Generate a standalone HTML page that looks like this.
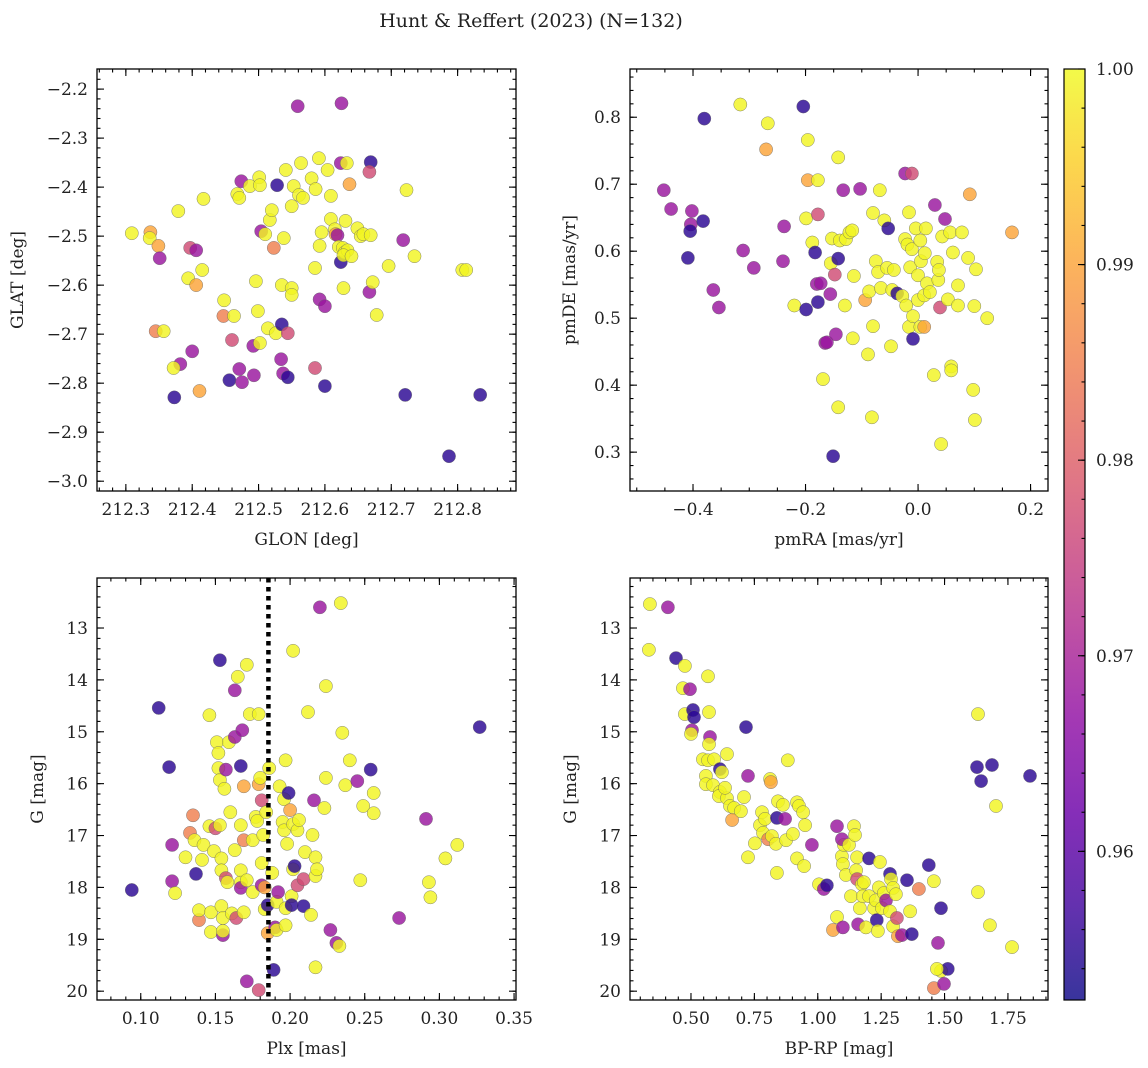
<!DOCTYPE html>
<html><head><meta charset="utf-8"><title>Hunt &amp; Reffert (2023)</title>
<style>
html,body{margin:0;padding:0;background:#fff;}
svg{display:block;font-family:"DejaVu Serif","Liberation Serif",serif;}
</style></head>
<body>
<svg id="fig" width="1148" height="1068" viewBox="0 0 1148 1068" xmlns="http://www.w3.org/2000/svg">
<rect width="1148" height="1068" fill="#fff"/>
<text x="531" y="27" font-size="19" text-anchor="middle" fill="#222">Hunt &amp; Reffert (2023) (N=132)</text>
</svg>
<script>
// ---------- data ----------
const Y=0.9995,O=0.990,S=0.985,P=0.977,M=0.968,D=0.955;
const glon=[212.309,212.337,212.336,212.349,212.345,212.357,212.351,212.379,212.417,212.397,212.406,212.394,212.415,212.400,212.382,212.372,212.373,212.411,212.406,212.448,212.447,212.463,212.460,212.456,212.471,212.475,212.468,212.471,212.474,212.487,212.493,212.492,212.496,212.499,212.502,212.504,212.510,212.514,212.526,212.523,212.517,212.520,212.501,212.502,212.528,212.535,212.538,212.535,212.534,212.537,212.544,212.544,212.550,212.550,212.541,212.550,212.553,212.559,212.561,212.567,212.564,212.580,212.586,212.591,212.585,212.592,212.595,212.592,212.600,212.585,212.600,212.604,212.609,212.609,212.615,212.616,212.619,212.625,212.624,212.633,212.621,212.624,212.627,212.630,212.634,212.637,212.631,212.628,212.628,212.640,212.649,212.654,212.658,212.669,212.669,212.667,212.667,212.672,212.678,212.696,212.718,212.723,212.735,212.721,212.807,212.813,212.787,212.834];
const glat=[-2.494,-2.492,-2.504,-2.520,-2.694,-2.694,-2.545,-2.449,-2.424,-2.524,-2.529,-2.586,-2.569,-2.735,-2.761,-2.769,-2.829,-2.816,-2.600,-2.631,-2.663,-2.663,-2.712,-2.794,-2.771,-2.798,-2.414,-2.422,-2.388,-2.398,-2.784,-2.724,-2.592,-2.653,-2.718,-2.490,-2.496,-2.688,-2.698,-2.524,-2.467,-2.447,-2.380,-2.396,-2.396,-2.600,-2.504,-2.680,-2.751,-2.780,-2.788,-2.698,-2.606,-2.620,-2.365,-2.439,-2.398,-2.235,-2.416,-2.422,-2.351,-2.382,-2.404,-2.341,-2.565,-2.520,-2.492,-2.629,-2.643,-2.769,-2.806,-2.365,-2.418,-2.465,-2.486,-2.496,-2.498,-2.229,-2.351,-2.351,-2.522,-2.553,-2.524,-2.533,-2.529,-2.394,-2.469,-2.606,-2.539,-2.541,-2.484,-2.500,-2.496,-2.498,-2.349,-2.369,-2.614,-2.594,-2.661,-2.561,-2.508,-2.406,-2.541,-2.824,-2.569,-2.569,-2.949,-2.824];
const prob1=[Y,O,Y,O,S,Y,M,Y,Y,P,M,Y,Y,M,M,Y,D,O,O,Y,S,Y,P,D,M,M,Y,Y,M,Y,M,M,Y,Y,Y,M,Y,Y,Y,S,Y,Y,Y,Y,D,Y,Y,D,M,M,D,P,Y,Y,Y,Y,Y,M,Y,Y,Y,Y,Y,Y,Y,Y,Y,M,M,P,D,Y,Y,Y,Y,O,M,M,M,Y,Y,D,Y,Y,Y,O,Y,Y,Y,Y,Y,Y,Y,Y,D,P,M,Y,Y,Y,M,Y,Y,D,Y,Y,D,D];

const pmra=[-0.452,-0.439,-0.402,-0.404,-0.405,-0.382,-0.409,-0.380,-0.364,-0.354,-0.316,-0.311,-0.292,-0.270,-0.267,-0.240,-0.238,-0.220,-0.204,-0.196,-0.199,-0.196,-0.199,-0.188,-0.183,-0.178,-0.178,-0.180,-0.178,-0.173,-0.165,-0.162,-0.169,-0.156,-0.155,-0.153,-0.151,-0.148,-0.146,-0.142,-0.142,-0.142,-0.130,-0.139,-0.128,-0.133,-0.122,-0.117,-0.116,-0.114,-0.103,-0.094,-0.089,-0.087,-0.082,-0.080,-0.080,-0.075,-0.071,-0.068,-0.066,-0.060,-0.055,-0.053,-0.048,-0.046,-0.043,-0.037,-0.028,-0.023,-0.023,-0.019,-0.016,-0.014,-0.021,-0.016,-0.011,-0.011,-0.009,-0.009,-0.004,0.000,0.000,0.004,0.004,0.005,0.011,0.011,0.012,0.014,0.016,0.021,0.028,0.030,0.034,0.036,0.037,0.039,0.041,0.043,0.048,0.053,0.057,0.059,0.059,0.062,0.071,0.071,0.078,0.089,0.092,0.098,0.101,0.103,0.100,0.123,0.167];
const pmde=[0.691,0.663,0.660,0.640,0.630,0.645,0.590,0.798,0.542,0.516,0.819,0.601,0.575,0.752,0.791,0.585,0.637,0.519,0.816,0.766,0.649,0.706,0.513,0.613,0.598,0.655,0.706,0.551,0.524,0.552,0.463,0.464,0.409,0.536,0.582,0.619,0.294,0.565,0.476,0.740,0.367,0.589,0.519,0.616,0.618,0.691,0.628,0.631,0.470,0.563,0.693,0.527,0.446,0.540,0.352,0.657,0.488,0.585,0.569,0.691,0.545,0.646,0.575,0.634,0.458,0.542,0.572,0.537,0.533,0.716,0.618,0.610,0.658,0.576,0.519,0.487,0.716,0.603,0.469,0.503,0.634,0.564,0.527,0.616,0.487,0.585,0.487,0.534,0.597,0.634,0.552,0.539,0.415,0.669,0.584,0.557,0.572,0.516,0.312,0.622,0.648,0.528,0.628,0.428,0.422,0.598,0.549,0.519,0.628,0.590,0.685,0.393,0.348,0.573,0.518,0.500,0.628];
const prob2=[M,M,M,M,D,D,D,D,M,M,Y,M,M,O,Y,M,M,Y,D,Y,Y,O,D,Y,D,P,Y,M,D,M,M,M,Y,M,Y,Y,D,P,M,Y,Y,D,Y,Y,Y,M,Y,Y,Y,Y,M,O,Y,Y,Y,Y,Y,Y,Y,Y,Y,Y,Y,D,Y,Y,Y,D,Y,M,Y,Y,Y,Y,Y,Y,P,Y,D,Y,Y,Y,Y,Y,Y,Y,O,Y,Y,Y,Y,Y,Y,M,Y,Y,Y,P,Y,Y,M,Y,Y,Y,Y,Y,Y,Y,Y,Y,O,Y,Y,Y,Y,Y,O];

const plx=[0.094,0.112,0.119,0.121,0.121,0.123,0.130,0.133,0.135,0.136,0.137,0.139,0.139,0.141,0.142,0.146,0.146,0.147,0.147,0.149,0.150,0.151,0.152,0.152,0.153,0.153,0.153,0.154,0.154,0.154,0.155,0.155,0.155,0.156,0.157,0.157,0.158,0.159,0.160,0.161,0.164,0.163,0.163,0.163,0.165,0.167,0.167,0.167,0.167,0.167,0.168,0.169,0.169,0.169,0.171,0.171,0.171,0.173,0.175,0.175,0.177,0.178,0.179,0.179,0.179,0.180,0.181,0.181,0.181,0.182,0.183,0.183,0.184,0.185,0.185,0.186,0.188,0.189,0.190,0.191,0.191,0.192,0.193,0.195,0.196,0.196,0.197,0.197,0.197,0.198,0.199,0.200,0.201,0.201,0.202,0.202,0.202,0.203,0.205,0.205,0.206,0.209,0.209,0.210,0.212,0.214,0.215,0.216,0.217,0.217,0.217,0.218,0.220,0.223,0.224,0.224,0.227,0.231,0.233,0.234,0.235,0.237,0.240,0.245,0.247,0.249,0.254,0.256,0.256,0.273,0.291,0.293,0.294,0.304,0.312,0.327];
const gmag3=[18.05,14.54,15.68,17.88,17.18,18.11,17.42,16.95,16.61,17.09,17.74,18.63,18.44,17.47,17.18,16.82,14.68,18.86,18.48,17.30,16.86,15.20,15.41,15.70,15.93,13.62,16.80,17.44,17.67,18.36,18.59,18.92,18.84,16.10,15.73,17.82,17.90,15.20,16.55,18.50,18.59,17.28,15.10,14.20,13.94,16.80,17.90,18.01,15.66,17.67,14.97,16.05,17.09,18.48,17.86,19.81,13.71,14.66,17.09,18.09,16.64,16.72,16.01,19.98,14.66,15.89,16.32,17.53,17.96,16.99,18.00,18.42,16.55,18.88,18.34,15.70,17.72,19.59,18.77,18.82,18.28,18.09,16.05,16.74,16.30,16.90,18.40,18.73,15.55,17.16,16.18,16.51,18.17,18.34,17.65,13.44,16.78,17.59,16.90,17.96,16.70,17.84,18.36,17.32,14.62,18.53,16.99,16.32,17.78,17.42,19.54,17.65,12.60,16.47,14.12,15.89,18.82,19.07,19.13,12.52,15.02,16.03,15.55,15.95,17.86,16.43,15.73,16.18,16.57,18.59,16.68,17.90,18.19,17.44,17.18,14.91];
const prob3=[D,D,D,M,M,Y,Y,S,S,Y,D,S,Y,Y,Y,Y,Y,Y,Y,Y,P,Y,Y,Y,Y,D,Y,Y,Y,Y,Y,M,Y,Y,M,P,Y,Y,Y,Y,P,Y,M,M,Y,Y,Y,M,D,Y,M,O,S,Y,Y,M,Y,Y,Y,Y,Y,Y,O,P,Y,Y,P,Y,M,Y,O,Y,Y,O,D,Y,Y,D,M,Y,Y,M,Y,Y,Y,Y,Y,Y,Y,Y,D,O,Y,D,Y,Y,Y,D,Y,P,Y,P,D,Y,Y,Y,Y,M,Y,Y,Y,Y,M,Y,Y,Y,M,M,Y,Y,Y,Y,Y,M,Y,Y,D,Y,Y,M,M,Y,Y,Y,Y,D];
const plxMedian=0.1855;

const bprp=[0.338,0.409,0.334,0.441,0.476,0.468,0.496,0.476,0.508,0.512,0.504,0.500,0.567,0.571,0.575,0.571,0.547,0.567,0.591,0.559,0.559,0.587,0.614,0.614,0.622,0.610,0.642,0.642,0.634,0.654,0.670,0.662,0.697,0.709,0.717,0.725,0.725,0.752,0.772,0.780,0.784,0.792,0.804,0.812,0.815,0.819,0.835,0.839,0.839,0.843,0.863,0.871,0.875,0.882,0.902,0.918,0.918,0.926,0.942,0.946,0.950,0.977,1.005,1.024,1.036,1.060,1.076,1.076,1.095,1.099,1.103,1.095,1.099,1.111,1.123,1.131,1.143,1.147,1.151,1.155,1.155,1.159,1.166,1.174,1.178,1.182,1.190,1.202,1.202,1.222,1.229,1.233,1.237,1.241,1.253,1.261,1.269,1.245,1.285,1.285,1.289,1.297,1.297,1.308,1.312,1.316,1.332,1.352,1.364,1.371,1.399,1.438,1.458,1.474,1.486,1.486,1.458,1.498,1.513,1.470,1.628,1.644,1.632,1.632,1.687,1.703,1.679,1.766,1.837];
const gmag4=[12.54,12.60,13.42,13.58,13.73,14.16,14.18,14.66,14.58,14.72,14.97,15.04,13.93,14.62,15.10,15.24,15.53,15.55,15.53,15.85,16.01,16.03,16.16,15.72,15.78,16.24,16.28,15.43,16.08,16.43,16.47,16.70,16.53,16.26,14.91,15.85,17.42,17.15,16.80,16.55,16.95,16.68,17.07,15.91,15.97,17.01,17.16,17.72,16.66,16.34,16.41,16.68,17.09,15.55,16.97,16.36,17.44,16.43,16.55,17.59,16.80,17.18,17.94,18.03,17.96,18.82,18.57,16.82,17.40,17.55,17.18,17.07,18.77,17.76,17.18,18.17,16.82,16.99,17.67,17.42,17.84,18.71,18.40,17.94,18.17,17.90,18.77,17.44,18.17,18.40,18.25,18.63,18.84,18.00,18.40,18.11,18.25,17.51,17.74,18.46,17.84,18.01,18.75,18.13,18.59,18.94,18.92,17.86,18.46,18.90,18.03,17.57,17.88,19.07,18.40,19.61,19.94,19.86,19.57,19.57,15.68,15.95,14.66,18.09,15.64,16.43,18.73,19.15,15.85];
const prob4=[Y,M,Y,D,Y,Y,M,Y,D,D,M,Y,Y,Y,M,Y,Y,Y,Y,Y,Y,Y,Y,D,Y,Y,Y,Y,Y,Y,Y,O,Y,Y,D,M,Y,Y,Y,Y,Y,Y,S,Y,O,Y,Y,Y,D,Y,Y,M,Y,Y,Y,Y,Y,Y,Y,Y,Y,M,Y,M,D,O,Y,M,Y,Y,Y,M,M,Y,Y,Y,Y,Y,Y,Y,P,M,Y,Y,Y,Y,Y,D,Y,Y,Y,D,Y,Y,Y,Y,M,Y,D,Y,Y,Y,Y,Y,P,O,M,D,Y,D,S,D,Y,M,D,Y,S,M,D,Y,D,D,Y,Y,D,Y,Y,Y,D];

const cbTicks=[0.96,0.97,0.98,0.99,1.00];
const cbRange=[0.9524,1.0];

// ---------- helpers ----------
const NS="http://www.w3.org/2000/svg";
const svg=document.getElementById('fig');
function mk(tag,attrs,parent){const e=document.createElementNS(NS,tag);for(const k in attrs)e.setAttribute(k,attrs[k]);(parent||svg).appendChild(e);return e;}
const stops=[[0,[13,8,135]],[0.1,[65,4,157]],[0.2,[106,0,168]],[0.3,[143,13,164]],[0.4,[177,42,144]],[0.5,[204,71,120]],[0.6,[225,100,98]],[0.7,[242,132,75]],[0.8,[252,166,54]],[0.9,[252,206,37]],[1,[240,249,33]]];
function plasma(t){t=Math.max(0,Math.min(1,t));for(let i=1;i<stops.length;i++){if(t<=stops[i][0]){const a=stops[i-1],b=stops[i];const f=(t-a[0])/(b[0]-a[0]);const c=a[1].map((v,j)=>Math.round(v+(b[1][j]-v)*f));return `rgb(${c[0]},${c[1]},${c[2]})`;}}return 'rgb(240,249,33)';}
function colorOf(p){return plasma((p-cbRange[0])/(cbRange[1]-cbRange[0]));}
const fmtMinus=s=>s.replace('-','\u2212');
const FS=17;

function panel(cfg){
  const [x0,y0,x1,y1]=cfg.box;
  const g=mk('g',{});
  
  
  const sx=v=>x0+(v-cfg.xd[0])/(cfg.xd[1]-cfg.xd[0])*(x1-x0);
  const sy=v=>y0+(v-cfg.yd[0])/(cfg.yd[1]-cfg.yd[0])*(y1-y0);
  const pg=mk('g',{},g);
  
  
  for(let i=0;i<cfg.xs.length;i++){
    const c=mk('circle',{cx:sx(cfg.xs[i]).toFixed(1),cy:sy(cfg.ys[i]).toFixed(1),r:6.6,fill:colorOf(cfg.ps[i]),'fill-opacity':0.82,stroke:'#666','stroke-width':0.4},pg);
    
    
  }
  if(cfg.extra)cfg.extra(g,sx,sy);
  const fr=mk('rect',{x:x0,y:y0,width:x1-x0,height:y1-y0,fill:'none',stroke:'#000','stroke-width':1.3},g);
  
  
  const tg=mk('g',{stroke:'#000','stroke-width':1.1},g);
  
  
  const eps=1e-9;
  function ticksX(step,len){const s=Math.ceil((Math.min(...cfg.xd)-eps)/step);for(let k=s;k*step<=Math.max(...cfg.xd)+eps;k++){const x=sx(k*step);if(x<x0+0.5||x>x1-0.5)continue;mk('line',{x1:x,y1:y1,x2:x,y2:y1-len},tg);mk('line',{x1:x,y1:y0,x2:x,y2:y0+len},tg);}}
  function ticksY(step,len){const lo=Math.min(...cfg.yd),hi=Math.max(...cfg.yd);const s=Math.ceil((lo-eps)/step);for(let k=s;k*step<=hi+eps;k++){const y=sy(k*step);if(y<y0+0.5||y>y1-0.5)continue;mk('line',{x1:x0,y1:y,x2:x0+len,y2:y},tg);mk('line',{x1:x1,y1:y,x2:x1-len,y2:y},tg);}}
  ticksX(cfg.xminor,3.5);ticksY(cfg.yminor,3.5);
  cfg.xticks.forEach(v=>{const x=sx(v);mk('line',{x1:x,y1:y1,x2:x,y2:y1-7},tg);mk('line',{x1:x,y1:y0,x2:x,y2:y0+7},tg);
    const t=mk('text',{x:x,y:y1+24,'font-size':FS,'text-anchor':'middle',fill:'#222'},g);t.textContent=fmtMinus(v.toFixed(cfg.xdec));
    });
  cfg.yticks.forEach(v=>{const y=sy(v);mk('line',{x1:x0,y1:y,x2:x0+7,y2:y},tg);mk('line',{x1:x1,y1:y,x2:x1-7,y2:y},tg);
    const t=mk('text',{x:x0-9,y:y+6,'font-size':FS,'text-anchor':'end',fill:'#222'},g);t.textContent=fmtMinus(v.toFixed(cfg.ydec));
    });
  const xl=mk('text',{x:(x0+x1)/2,y:y1+54,'font-size':FS,'text-anchor':'middle',fill:'#222'},g);xl.textContent=cfg.xlabel;
  
  const yx=cfg.ylx, yc=(y0+y1)/2;
  const yl=mk('text',{x:yx,y:yc,'font-size':FS,'text-anchor':'middle',fill:'#222',transform:`rotate(-90 ${yx} ${yc})`},g);yl.textContent=cfg.ylabel;
  
}

panel({name:'glon-glat-panel',box:[97,69,516,491],xd:[212.2565,212.888],yd:[-2.159,-3.020],xs:glon,ys:glat,ps:prob1,
  xticks:[212.3,212.4,212.5,212.6,212.7,212.8],xdec:1,xminor:0.02,yticks:[-2.2,-2.3,-2.4,-2.5,-2.6,-2.7,-2.8,-2.9,-3.0],ydec:1,yminor:0.02,
  xlabel:'GLON [deg]',ylabel:'GLAT [deg]',ylx:23});
panel({name:'pm-panel',box:[630,69,1048,491],xd:[-0.512,0.231],yd:[0.872,0.242],xs:pmra,ys:pmde,ps:prob2,
  xticks:[-0.4,-0.2,0.0,0.2],xdec:1,xminor:0.05,yticks:[0.3,0.4,0.5,0.6,0.7,0.8],ydec:1,yminor:0.02,
  xlabel:'pmRA [mas/yr]',ylabel:'pmDE [mas/yr]',ylx:575});
panel({name:'plx-g-panel',box:[97,578,516,1000],xd:[0.0707,0.3513],yd:[12.036,20.17],xs:plx,ys:gmag3,ps:prob3,
  xticks:[0.10,0.15,0.20,0.25,0.30,0.35],xdec:2,xminor:0.01,yticks:[13,14,15,16,17,18,19,20],ydec:0,yminor:0.2,
  xlabel:'Plx [mas]',ylabel:'G [mag]',ylx:43,
  extra:(g,sx,sy)=>{const l=mk('line',{x1:sx(plxMedian),y1:578,x2:sx(plxMedian),y2:1000,stroke:'#000','stroke-width':4.5,'stroke-dasharray':'4.5,4.5'},g);
    }});
panel({name:'cmd-panel',box:[630,578,1048,1000],xd:[0.2595,1.908],yd:[12.036,20.17],xs:bprp,ys:gmag4,ps:prob4,
  xticks:[0.50,0.75,1.00,1.25,1.50,1.75],xdec:2,xminor:0.05,yticks:[13,14,15,16,17,18,19,20],ydec:0,yminor:0.2,
  xlabel:'BP-RP [mag]',ylabel:'G [mag]',ylx:576});

// ---------- colorbar ----------
(function(){
  const x0=1064,x1=1085,y0=69,y1=1000;
  const cg=mk('g',{});
  
  
  const defs=mk('defs',{},cg);
  const lg=mk('linearGradient',{id:'cbg',x1:0,y1:1,x2:0,y2:0},defs);
  for(let i=0;i<=20;i++){const t=i/20;mk('stop',{offset:t,'stop-color':plasma(t)},lg);}
  const r=mk('rect',{x:x0,y:y0,width:x1-x0,height:y1-y0,fill:'url(#cbg)','fill-opacity':0.82,stroke:'#000','stroke-width':1.2},cg);
  
  const sy=v=>y1-(v-cbRange[0])/(cbRange[1]-cbRange[0])*(y1-y0);
  for(let k=Math.ceil(cbRange[0]/0.002);k*0.002<=cbRange[1]+1e-9;k++){const y=sy(k*0.002);if(y<y0+0.5||y>y1-0.5)continue;mk('line',{x1:x1,y1:y,x2:x1-3.5,y2:y,stroke:'#000','stroke-width':1.1},cg);}
  cbTicks.forEach(v=>{const y=sy(v);mk('line',{x1:x1,y1:y,x2:x1-7,y2:y,stroke:'#000','stroke-width':1.1},cg);
    const t=mk('text',{x:x1+11,y:y+6,'font-size':FS,fill:'#222'},cg);t.textContent=v.toFixed(2);
    });
})();
</script>
</body></html>
